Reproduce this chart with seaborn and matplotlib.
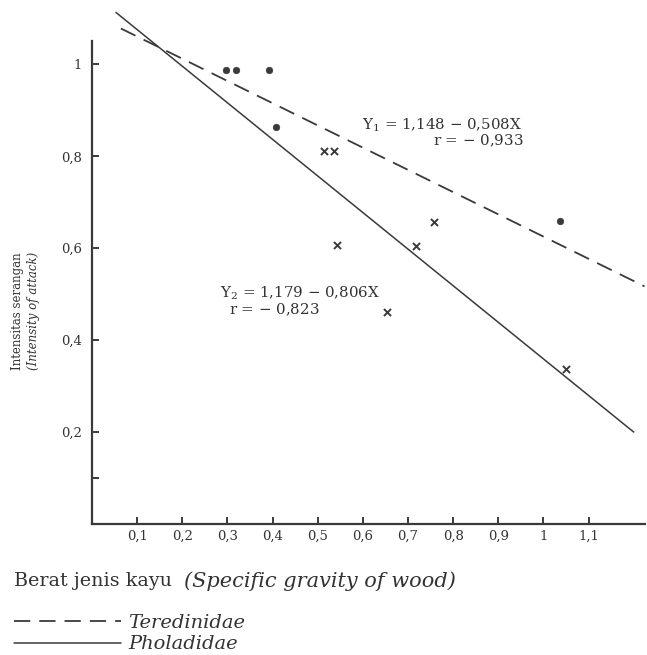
import matplotlib
matplotlib.use("Agg")
import matplotlib.pyplot as plt
import seaborn as sns
import pandas as pd

# Teredinidae points (circles) and Pholadidae points (crosses)
ter_x = [0.296, 0.32, 0.393, 0.407, 1.036]
ter_y = [0.987, 0.987, 0.987, 0.863, 0.659]
phol_x = [0.513, 0.536, 0.542, 0.653, 0.718, 0.758, 1.051]
phol_y = [0.811, 0.811, 0.607, 0.461, 0.604, 0.657, 0.337]

# regression line ends as drawn
ter_line_x = [0.064, 1.224]
ter_line_y = [1.078, 0.517]
phol_line_x = [0.053, 1.2]
phol_line_y = [1.113, 0.2]

x_ticks = [0.1, 0.2, 0.3, 0.4, 0.5, 0.6, 0.7, 0.8, 0.9, 1.0, 1.1]
x_labels = ["0,1", "0,2", "0,3", "0,4", "0,5", "0,6", "0,7", "0,8", "0,9", "1", "1,1"]
y_ticks = [0.1, 0.2, 0.4, 0.6, 0.8, 1.0]
y_labels = ["", "0,2", "0,4", "0,6", "0,8", "1"]

sns.set_style("ticks")
plt.rcParams["font.family"] = ["DejaVu Serif"]
plt.rcParams["mathtext.fontset"] = "dejavuserif"
ink = "#3a3a3a"
txt = "#333333"

fig = plt.figure(figsize=(6.47, 6.55), dpi=100)
ax = fig.add_axes([92 / 647, 1 - 524 / 655, 553 / 647, 524 / 655])

lines = pd.DataFrame({
    "x": ter_line_x + phol_line_x,
    "y": ter_line_y + phol_line_y,
    "fam": ["Teredinidae"] * 2 + ["Pholadidae"] * 2,
})
sns.lineplot(data=lines[lines.fam == "Teredinidae"], x="x", y="y", ax=ax,
             color=ink, lw=1.3, linestyle=(0, (9, 5)), label="Teredinidae")
sns.lineplot(data=lines[lines.fam == "Pholadidae"], x="x", y="y", ax=ax,
             color=ink, lw=1.1, label="Pholadidae")

sns.scatterplot(x=ter_x, y=ter_y, ax=ax, marker="o", s=22, color=ink,
                edgecolor=ink, linewidth=0.5)
sns.scatterplot(x=phol_x, y=phol_y, ax=ax, marker="x", s=26, color=ink,
                linewidth=1.4)

ax.set_xlim(0, 1.225)
ax.set_ylim(0, 1.14)
sns.despine(ax=ax)
ax.spines["left"].set_bounds(0, 1.05)
for s in ["left", "bottom"]:
    ax.spines[s].set_linewidth(1.6)
    ax.spines[s].set_color(ink)

ax.set_xticks(x_ticks)
ax.set_xticklabels(x_labels)
ax.set_yticks(y_ticks)
ax.set_yticklabels(y_labels)
ax.tick_params(direction="in", length=5, width=1.4, color=ink,
               labelsize=9.5, labelcolor=txt)
ax.tick_params(axis="x", pad=4)
ax.tick_params(axis="y", pad=7)
ax.set_xlabel("")
ax.set_ylabel("")
ax.get_legend().remove()

ax.text(0.598, 0.868, "Y$_1$ = 1,148 $-$ 0,508X", fontsize=10.8, color=txt,
        ha="left", va="center")
ax.text(0.955, 0.833, "r = $-$ 0,933", fontsize=10.8, color=txt,
        ha="right", va="center")
ax.text(0.284, 0.502, "Y$_2$ = 1,179 $-$ 0,806X", fontsize=10.8, color=txt,
        ha="left", va="center")
ax.text(0.503, 0.466, "r = $-$ 0,823", fontsize=10.8, color=txt,
        ha="right", va="center")

fig.text(18 / 647, 1 - 311 / 655, "Intensitas serangan", rotation=90,
         fontsize=8.5, color=txt, ha="center", va="center")
fig.text(33 / 647, 1 - 311 / 655, "(Intensity of attack)", rotation=90,
         fontsize=8.5, style="italic", color=txt, ha="center", va="center")

fig.text(14 / 647, 1 - 581 / 655, "Berat jenis kayu", fontsize=13.8,
         color=txt, ha="left", va="center")
fig.text(184 / 647, 1 - 581 / 655, "(Specific gravity of wood)", fontsize=15,
         style="italic", color=txt, ha="left", va="center")

handles, labels = ax.get_legend_handles_labels()
leg = fig.legend(handles[:2], labels[:2], loc="upper left",
                 bbox_to_anchor=(-2 / 647, 1 - 598 / 655), frameon=False,
                 handlelength=5.5, handletextpad=0.4, labelspacing=0.2,
                 borderpad=0.3, prop={"size": 14, "style": "italic"})
for t in leg.get_texts():
    t.set_color(txt)

fig.savefig("out.png", dpi=100)
